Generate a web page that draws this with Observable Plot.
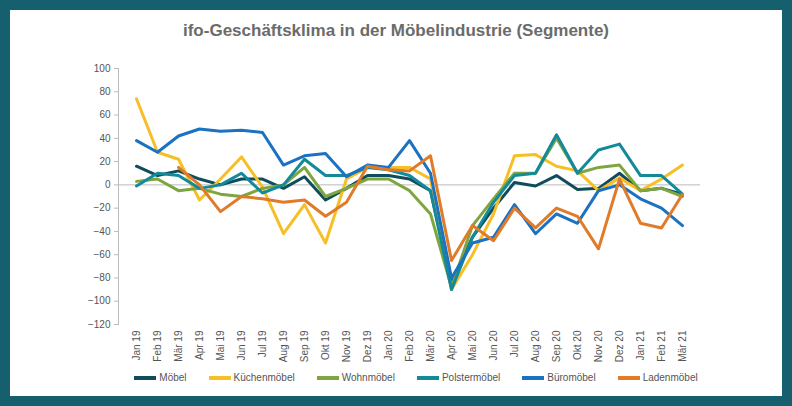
<!DOCTYPE html>
<html><head><meta charset="utf-8">
<script src="https://cdn.jsdelivr.net/npm/d3@7"></script>
<script src="https://cdn.jsdelivr.net/npm/@observablehq/plot@0.6"></script>
<style>
body{margin:0;background:#155f6e;font-family:Arial,"Liberation Sans",sans-serif}
#box{position:absolute;left:10px;top:10px;width:772px;height:386px;background:#fff}
#title{height:50px;line-height:42px;text-align:center;font-weight:bold;font-size:17px;color:#6b6b6b}
#legend{display:flex;justify-content:center;gap:22px;font-size:10px;color:#555;margin-top:4px;padding-left:40px}
#legend span{display:flex;align-items:center;gap:3px}
#legend i{display:inline-block;width:22px;height:4px}
</style></head><body>
<div id="box"><div id="title">ifo-Geschäftsklima in der Möbelindustrie (Segmente)</div><div id="chart"></div><div id="legend"></div></div>
<script>
const months=["Jan 19","Feb 19","Mär 19","Apr 19","Mai 19","Jun 19","Jul 19","Aug 19","Sep 19","Okt 19","Nov 19","Dez 19","Jan 20","Feb 20","Mär 20","Apr 20","Mai 20","Jun 20","Jul 20","Aug 20","Sep 20","Okt 20","Nov 20","Dez 20","Jan 21","Feb 21","Mär 21"];
const seriesNames=["Möbel","Küchenmöbel","Wohnmöbel","Polstermöbel","Büromöbel","Ladenmöbel"];
const colors=["#0f4c5c","#f7bf26","#7fa541","#13899a","#1a72c0","#e07b2a"];
const moebel=[16,8,12,5,0,5,5,-3,7,-13,-3,8,8,5,-5,-85,-45,-20,2,-1,8,-4,-3,10,-5,-3,-8];
const kuechen=[74,28,22,-13,5,24,-2,-42,-17,-50,5,15,15,15,5,-90,-60,-25,25,26,16,12,-5,6,-5,5,17];
const wohn=[3,5,-5,-3,-8,-10,-3,0,15,-10,-3,5,5,-5,-25,-88,-35,-12,10,10,40,10,15,17,-5,-3,-10];
const polster=[-1,10,8,-3,0,10,-7,0,22,8,8,15,13,8,-5,-90,-45,-15,8,10,43,10,30,35,8,8,-8];
const buero=[38,28,42,48,46,47,45,17,25,27,7,17,15,38,10,-80,-50,-45,-17,-42,-25,-33,-5,0,-12,-20,-35];
const laden=[null,null,15,0,-23,-10,-12,-15,-13,-27,-15,16,13,12,25,-65,-35,-48,-20,-37,-20,-27,-55,5,-33,-37,-8];
const vals=[moebel,kuechen,wohn,polster,buero,laden];
const data=[];
vals.forEach((arr,s)=>arr.forEach((v,i)=>{if(v!==null)data.push({m:months[i],v,s:seriesNames[s]})}));
const chart=Plot.plot({
 width:772,height:308,marginLeft:108,marginRight:82,marginTop:8,marginBottom:44,
 style:{fontSize:"10px",color:"#555",fontFamily:"Arial",overflow:"visible"},
 x:{type:"point",domain:months,padding:0.5,label:null},
 y:{domain:[-120,100],label:null},
 color:{domain:seriesNames,range:colors},
 marks:[
  Plot.ruleY([0],{stroke:"#bbb"}),
  Plot.frame({anchor:"left",stroke:"#bbb"}),
  Plot.axisY({ticks:d3.range(-120,101,20),tickSize:4,stroke:"#bbb",label:null,tickPadding:4}),
  Plot.axisX({tickRotate:-90,tickSize:0,label:null,anchor:"bottom",tickPadding:6}),
  Plot.lineY(data,{x:"m",y:"v",z:"s",stroke:"s",strokeWidth:3})
 ]
});
document.getElementById("chart").appendChild(chart);
const lg=document.getElementById("legend");
seriesNames.forEach((n,i)=>{lg.innerHTML+=`<span><i style="background:${colors[i]}"></i>${n}</span>`});
</script></body></html>
